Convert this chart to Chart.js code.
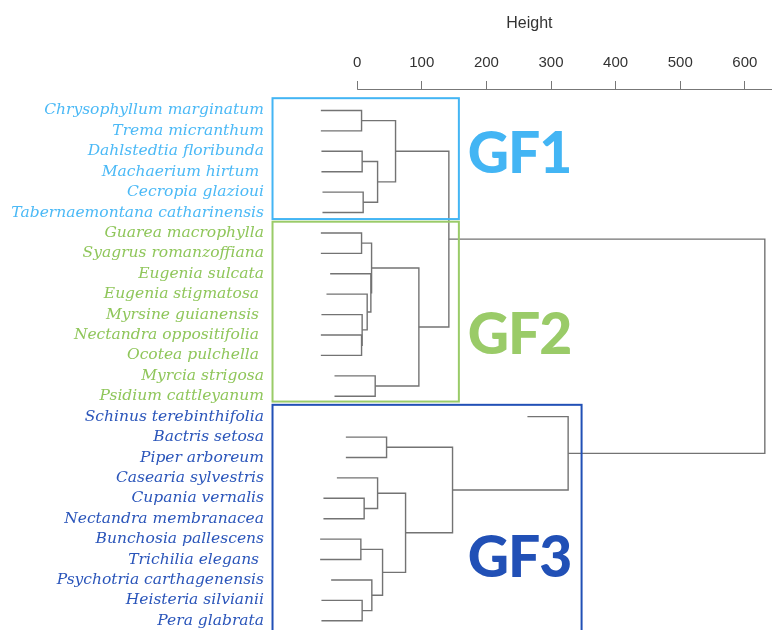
<!DOCTYPE html>
<html>
<head>
<meta charset="utf-8">
<script src="https://cdn.jsdelivr.net/npm/chart.js@4"></script>
<style>
  html, body { margin: 0; padding: 0; background: #fff; }
  #wrap { width: 772px; height: 630px; }
</style>
</head>
<body>
<div id="wrap"><canvas id="dendro"></canvas></div>
<script>
// Leaves, top to bottom
const LEAVES = [
  'Chrysophyllum marginatum', 'Trema micranthum', 'Dahlstedtia floribunda', 'Machaerium hirtum ',
  'Cecropia glazioui', 'Tabernaemontana catharinensis',
  'Guarea macrophylla', 'Syagrus romanzoffiana', 'Eugenia sulcata', 'Eugenia stigmatosa ',
  'Myrsine guianensis ', 'Nectandra oppositifolia ', 'Ocotea pulchella ', 'Myrcia strigosa', 'Psidium cattleyanum',
  'Schinus terebinthifolia', 'Bactris setosa', 'Piper arboreum', 'Casearia sylvestris', 'Cupania vernalis',
  'Nectandra membranacea', 'Bunchosia pallescens', 'Trichilia elegans ', 'Psychotria carthagenensis',
  'Heisteria silvianii', 'Pera glabrata',
];
const LEAF_GROUP = [0,0,0,0,0,0, 1,1,1,1,1,1,1,1,1, 2,2,2,2,2,2,2,2,2,2,2];

// hclust style merges: negative = leaf (1-based), positive = earlier merge (1-based)
const MERGE_LEFT  = [-1, -3, -5, 2, 1, -7, -12, -11, -10, -9, 6, -14, 11, 5, -17, -20, -19, -22, -25, -24, 18, 17, 15, -16, 14];
const MERGE_RIGHT = [-2, -4, -6, 3, 4, -8, -13, 7, 8, 9, 10, -15, 12, 13, -18, -21, 16, -23, -26, 19, 20, 21, 22, 23, 24];
const MERGE_HEIGHT = [6.8, 7.7, 9.3, 31.6, 59.4, 6.8, 6.8, 7.7, 15.5, 21.2, 22.3, 27.9, 95.5, 141.9,
  45.5, 10.8, 31.6, 5.7, 7.7, 22.7, 39.3, 74.9, 147.6, 326.5, 630.9];
const HANG = 63;

const HEIGHT_TICKS = [0, 100, 200, 300, 400, 500, 600];

const GROUP_NAMES = ['GF1', 'GF2', 'GF3'];
const GROUP_COLORS = ['#43b5f4', '#9acb68', '#2150b6'];
const LABEL_COLORS = ['#4bb9f6', '#8fc65a', '#2a55ba'];

// group boxes in (height, leaf) units
const BOX_X0 = [-131, -131, -131];
const BOX_X1 = [157.4, 157.4, 347.3];
const BOX_Y0 = [-0.6, 5.45, 14.42];
const BOX_Y1 = [5.32, 14.26, 27];
const GF_LABEL_X = 171;
const GF_LABEL_Y = [3.05, 11.93, 22.86];

// walk the merges: each node has a height and a vertical position
const nodeY = [];
function child(ref) {
  if (ref < 0) return { y: -ref - 1, leaf: true };
  return { y: nodeY[ref - 1], h: MERGE_HEIGHT[ref - 1], leaf: false };
}
const datasets = [];
MERGE_HEIGHT.forEach((h, i) => {
  const a = child(MERGE_LEFT[i]), b = child(MERGE_RIGHT[i]);
  const ha = a.leaf ? h - HANG : a.h;
  const hb = b.leaf ? h - HANG : b.h;
  nodeY[i] = (a.y + b.y) / 2;
  datasets.push({
    data: [{ x: ha, y: a.y }, { x: h, y: a.y }, { x: h, y: b.y }, { x: hb, y: b.y }],
    borderColor: '#737373',
    borderWidth: 1.4,
    pointRadius: 0,
    fill: false,
    tension: 0,
  });
});

const overlay = {
  id: 'overlay',
  afterDatasetsDraw(chart) {
    const { ctx, chartArea, scales: { x, y } } = chart;
    ctx.save();
    // group boxes
    GROUP_NAMES.forEach((name, g) => {
      const x0 = x.getPixelForValue(BOX_X0[g]), x1 = x.getPixelForValue(BOX_X1[g]);
      const y0 = y.getPixelForValue(BOX_Y0[g]), y1 = y.getPixelForValue(BOX_Y1[g]);
      ctx.strokeStyle = GROUP_COLORS[g];
      ctx.lineWidth = 2;
      ctx.strokeRect(x0, y0, x1 - x0, y1 - y0);
      ctx.fillStyle = GROUP_COLORS[g];
      ctx.font = '900 57px Lato';
      ctx.letterSpacing = '-1px';
      ctx.textAlign = 'left';
      ctx.textBaseline = 'alphabetic';
      ctx.fillText(name, x.getPixelForValue(GF_LABEL_X), y.getPixelForValue(GF_LABEL_Y[g]));
      ctx.letterSpacing = '0px';
    });
    // top axis line, from 0 to the right edge
    ctx.strokeStyle = '#777';
    ctx.lineWidth = 1;
    ctx.beginPath();
    ctx.moveTo(x.getPixelForValue(0), chartArea.top + 0.5);
    ctx.lineTo(chartArea.right, chartArea.top + 0.5);
    ctx.stroke();
    // axis title
    ctx.fillStyle = '#333';
    ctx.font = '16px "Liberation Sans"';
    ctx.textAlign = 'center';
    ctx.textBaseline = 'middle';
    ctx.fillText('Height', x.getPixelForValue(266.5), 24);
    ctx.restore();
  },
};

new Chart(document.getElementById('dendro'), {
  type: 'line',
  data: { datasets },
  options: {
    responsive: true, maintainAspectRatio: false,
    animation: false,
    layout: { padding: 0 },
    plugins: { legend: { display: false }, tooltip: { enabled: false } },
    scales: {
      x: {
        type: 'linear', position: 'top',
        min: -138, max: 642,
        afterBuildTicks: s => { s.ticks = HEIGHT_TICKS.map(v => ({ value: v })); },
        afterFit: s => { s.height = 89; s.paddingLeft = 0; s.paddingRight = 0; },
        border: { display: false },
        grid: { drawOnChartArea: false, drawTicks: true, tickLength: 8, color: '#777' },
        ticks: { padding: 9, color: '#333', font: { family: 'Liberation Sans', size: 15 }, maxRotation: 0 },
      },
      y: {
        type: 'linear', reverse: true,
        min: -1.05, max: 25.45,
        afterBuildTicks: s => { s.ticks = LEAVES.map((_, i) => ({ value: i })); },
        afterFit: s => { s.width = 268; s.paddingTop = 0; s.paddingBottom = 0; },
        border: { display: false },
        grid: { display: false, drawTicks: false },
        ticks: {
          autoSkip: false, padding: 4,
          callback: v => LEAVES[v],
          color: c => LABEL_COLORS[LEAF_GROUP[c.index]],
          font: { family: 'DejaVu Serif', size: 15.5, style: 'italic' },
        },
      },
    },
  },
  plugins: [overlay],
});
</script>
</body>
</html>
